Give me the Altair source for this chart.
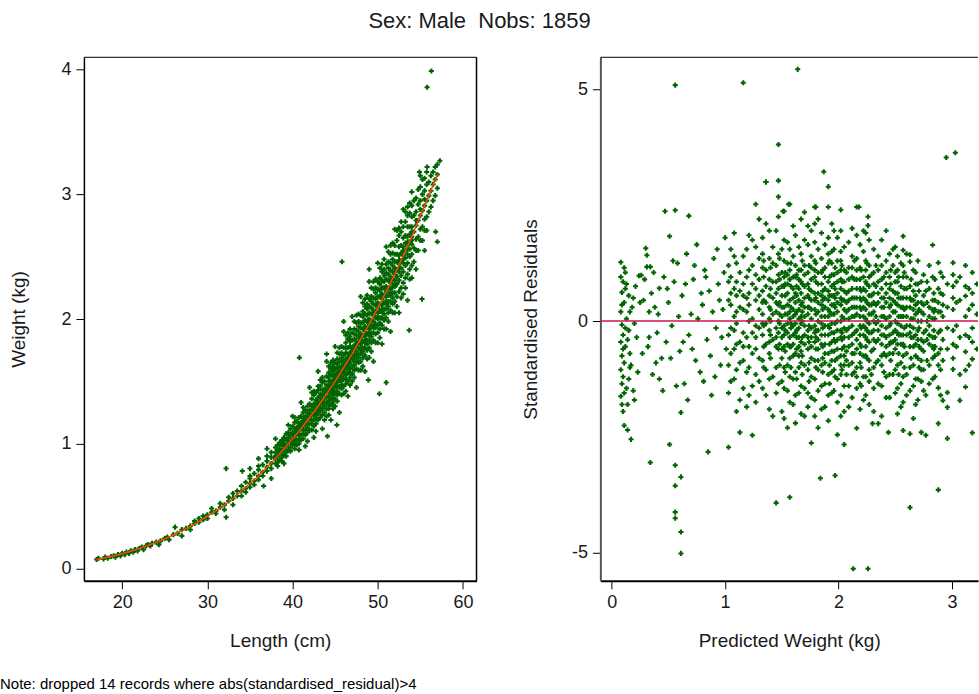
import altair as alt
import pandas as pd

TITLE = "Sex: Male\u00a0 Nobs: 1859"
NOTE = "Note: dropped 14 records where abs(standardised_residual)>4"

# ---------------- Left panel: Length (cm) vs Weight (kg) ----------------
small_fish = [(17.0,0.07),(17.2,0.08),(17.8,0.075),(18.0,0.09),(18.3,0.08),(18.7,0.095),(19.0,0.10),
              (19.2,0.09),(19.5,0.11),(19.8,0.10),(20.0,0.12),(20.3,0.11),(20.5,0.13),(20.8,0.12),
              (21.0,0.14),(21.3,0.13),(21.5,0.15),(21.8,0.14),(22.0,0.16),(22.3,0.17),(22.5,0.15),
              (22.8,0.18),(23.0,0.19),(23.3,0.18),(23.5,0.20),(24.0,0.21),(24.3,0.19),(24.5,0.22),
              (25.0,0.24),(25.3,0.25),(25.5,0.23),(26.0,0.27),(26.2,0.33),(26.5,0.28),(27.0,0.26),
              (27.0,0.31),(27.5,0.32),(28.0,0.34),(28.0,0.31),(28.5,0.36),(28.5,0.38),(29.0,0.37),
              (29.0,0.40),(29.5,0.39),(29.5,0.42),(30.0,0.43),(30.0,0.40),(30.5,0.45),(30.5,0.48),
              (31.0,0.46),(31.0,0.44),(31.5,0.49),(31.5,0.52),(32.0,0.51),(32.0,0.47),(32.5,0.54),
              (32.5,0.57),(33.0,0.56),(33.0,0.51),(33.0,0.60),(33.5,0.58),(33.5,0.62)]

mid_fish = [(34.0,[0.62,0.66,0.58]),(34.5,[0.64,0.69,0.61]),(35.0,[0.68,0.72,0.65,0.74]),
            (35.5,[0.70,0.76,0.67]),(36.0,[0.74,0.79,0.71,0.82]),(36.5,[0.77,0.83,0.74]),
            (37.0,[0.81,0.86,0.78,0.90]),(37.5,[0.84,0.89,0.80,0.93]),(38.0,[0.88,0.93,0.84,0.97,0.90]),
            (38.5,[0.92,0.96,0.87,1.01,0.94]),(39.0,[0.96,1.00,0.91,1.05,0.98]),
            (39.5,[1.00,1.05,0.95,1.09,1.02]),(40.0,[1.04,1.09,0.99,1.14,1.01,1.07])]

large_fish = [
    (40.5,[1.08,1.13,1.03,1.18,0.99,1.10]),
    (41.0,[1.13,1.17,1.07,1.22,1.03,1.15]),
    (41.5,[1.16,1.22,1.11,1.27,1.07,1.19]),
    (42.0,[1.21,1.27,1.16,1.32,1.11,1.24]),
    (42.5,[1.26,1.32,1.19,1.39,1.14,1.29,1.23,1.42]),
    (43.0,[1.31,1.37,1.24,1.43,1.19,1.33,1.27,1.46]),
    (43.5,[1.35,1.43,1.28,1.49,1.23,1.39,1.32,1.53]),
    (44.0,[1.41,1.47,1.33,1.54,1.28,1.44,1.37,1.22]),
    (44.5,[1.45,1.50,1.41,1.55,1.36,1.60,1.31,1.47,1.43,1.65]),
    (45.0,[1.50,1.55,1.46,1.60,1.41,1.65,1.36,1.52,1.48,1.30]),
    (45.5,[1.56,1.61,1.51,1.66,1.46,1.72,1.40,1.58,1.54,1.77]),
    (46.0,[1.61,1.66,1.57,1.71,1.52,1.77,1.46,1.63,1.59,1.40]),
    (46.5,[1.67,1.72,1.62,1.77,1.57,1.84,1.50,1.69,1.65,1.89]),
    (47.0,[1.72,1.77,1.68,1.83,1.62,1.89,1.56,1.75,1.70,1.50]),
    (47.5,[1.78,1.82,1.74,1.87,1.69,1.91,1.66,1.97,1.60,1.80,1.71,2.03]),
    (48.0,[1.84,1.88,1.80,1.93,1.75,1.97,1.72,2.03,1.66,1.86,1.77,1.59]),
    (48.5,[1.90,1.94,1.86,1.99,1.81,2.04,1.77,2.10,1.71,1.92,1.83,2.16]),
    (49.0,[1.96,2.00,1.92,2.05,1.87,2.10,1.83,2.16,1.77,1.98,1.89,1.69]),
    (49.5,[2.03,2.07,1.98,2.12,1.93,2.17,1.89,2.24,1.83,2.05,1.95,2.30]),
    (50.0,[2.09,2.13,2.05,2.18,2.00,2.24,1.95,2.30,1.89,2.11,2.02,1.81]),
    (50.5,[2.16,2.20,2.11,2.25,2.06,2.31,2.01,2.38,1.95,2.18,2.08,2.44]),
    (51.0,[2.22,2.26,2.18,2.32,2.12,2.37,2.08,2.44,2.01,2.24,2.14,1.92]),
    (51.5,[2.29,2.34,2.24,2.39,2.19,2.45,2.14,2.52,2.07,2.31,2.21,2.59]),
    (52.0,[2.36,2.41,2.31,2.46,2.26,2.52,2.21,2.59,2.14,2.38,2.28,2.05]),
    (52.5,[2.44,2.51,2.38,2.58,2.31,2.67,2.22,2.47,2.41,2.73]),
    (53.0,[2.51,2.58,2.45,2.65,2.38,2.74,2.29,2.55,2.48,2.20]),
    (53.5,[2.59,2.66,2.52,2.74,2.45,2.83,2.36,2.62,2.56,2.90]),
    (54.0,[2.66,2.74,2.60,2.82,2.52,2.91,2.43,2.70,2.63,2.33]),
    (54.5,[2.75,2.86,2.64,2.97,2.55,2.79]),
    (55.0,[2.83,2.95,2.72,3.06,2.63,2.88]),
    (55.5,[2.91,3.03,2.80,3.13,2.71,2.96]),
    (56.0,[2.99,3.10,2.86]),
    (56.5,[3.08,3.18,2.95]),
    (57.0,[3.16,3.24,3.05]),
]

large_fish_b = [
    (38.25,[0.90,0.95,0.85,0.99,0.82]),
    (38.75,[0.94,0.99,0.89,1.03,0.86]),
    (39.25,[0.98,1.03,0.93,1.08,0.90]),
    (39.75,[1.02,1.07,0.97,1.12,0.94]),
    (40.25,[1.06,1.12,1.00,1.17,0.96,1.09,1.03,1.21]),
    (40.75,[1.10,1.16,1.04,1.21,1.00,1.13,1.07,0.95]),
    (41.25,[1.14,1.20,1.08,1.25,1.04,1.17,1.11,1.29]),
    (41.75,[1.19,1.25,1.13,1.30,1.09,1.22,1.16,1.02]),
    (42.25,[1.23,1.30,1.16,1.36,1.11,1.27,1.19,1.41]),
    (42.75,[1.28,1.35,1.21,1.41,1.16,1.32,1.24,1.10]),
    (43.25,[1.33,1.40,1.26,1.46,1.21,1.37,1.29,1.51]),
    (43.75,[1.37,1.44,1.30,1.50,1.25,1.41,1.33,1.19]),
    (44.25,[1.42,1.50,1.34,1.57,1.28,1.46,1.38,1.62,1.23,1.53,1.31]),
    (44.75,[1.47,1.55,1.39,1.62,1.33,1.51,1.43,1.67,1.28,1.58,1.36]),
    (45.25,[1.53,1.61,1.45,1.68,1.39,1.57,1.49,1.73,1.34,1.64,1.42]),
    (45.75,[1.58,1.66,1.50,1.73,1.44,1.62,1.54,1.78,1.39,1.69,1.47]),
    (46.25,[1.64,1.73,1.55,1.81,1.48,1.68,1.60,1.87,1.42,1.77,1.52]),
    (46.75,[1.69,1.78,1.60,1.86,1.53,1.73,1.65,1.92,1.47,1.82,1.57]),
    (47.25,[1.75,1.84,1.66,1.92,1.59,1.79,1.71,1.98,1.53,1.88,1.63]),
    (47.75,[1.81,1.90,1.72,1.98,1.65,1.85,1.77,2.04,1.59,1.94,1.69]),
    (48.25,[1.87,1.97,1.77,2.06,1.69,1.92,1.82,2.13,1.62,2.02,1.74]),
    (48.75,[1.93,2.03,1.83,2.12,1.75,1.98,1.88,2.19,1.68,2.08,1.80]),
    (49.25,[1.99,2.09,1.89,2.18,1.81,2.04,1.94,2.25,1.74,2.14,1.86]),
    (49.75,[2.06,2.16,1.96,2.25,1.88,2.11,2.01,2.32,1.81,2.21,1.93]),
    (50.25,[2.12,2.23,2.01,2.33,1.92,2.18,2.06,2.41,1.85,2.28,1.97]),
    (50.75,[2.19,2.30,2.08,2.40,1.99,2.25,2.13,2.48,1.92,2.35,2.04]),
    (51.25,[2.25,2.36,2.14,2.46,2.05,2.31,2.19,2.54,1.98,2.41,2.10]),
    (51.75,[2.32,2.43,2.21,2.53,2.12,2.38,2.26,2.61,2.05,2.48,2.17]),
    (52.25,[2.40,2.52,2.28,2.63,2.18,2.46,2.34,2.71,2.10]),
    (52.75,[2.47,2.59,2.35,2.70,2.25,2.53,2.41,2.78,2.17]),
    (53.25,[2.55,2.67,2.43,2.78,2.33,2.61,2.49,2.86,2.25]),
    (53.75,[2.62,2.74,2.50,2.85,2.40,2.68,2.56,2.93,2.32]),
    (54.25,[2.70,2.83,2.57,2.95,2.46]),
    (54.75,[2.79,2.92,2.66,3.04,2.55]),
    (55.25,[2.87,3.00,2.74,3.12,2.63]),
    (55.75,[2.95,3.08,2.82,3.18,2.71]),
    (56.25,[3.03,3.15,2.90]),
    (56.75,[3.12,3.22,2.99]),
]

band_edges = [(39.5,1.15),(40.0,1.22),(41.0,1.33),(41.5,0.98),(42.0,1.45),(42.5,1.05),(43.0,1.58),
              (43.5,1.12),(44.0,1.66),(44.5,1.19),(45.0,1.78),(45.5,1.25),(46.0,1.90),(46.5,1.38),
              (47.0,2.02),(47.5,1.45),(48.0,2.18),(48.5,1.58),(49.0,2.30),(49.5,1.66),(50.0,2.45),
              (50.5,1.80),(51.0,2.58),(51.5,1.90),(52.0,2.72),(52.5,2.05),(53.0,2.88),(53.5,2.15),
              (54.0,3.02),(54.5,2.40),(55.0,3.15),(55.5,2.55),(46.0,1.98),(44.0,1.72),(49.0,2.40),
              (37.0,0.96),(38.0,1.04),(36.0,0.88),(35.0,0.80),(37.5,0.72),(39.0,0.84)]

left_outliers = [(32.2,0.41),(32.2,0.80),(34.1,0.78),(36.6,0.66),(40.8,1.69),(45.8,2.46),(44.1,1.06),
                 (45.2,1.15),(50.2,1.40),(51.0,1.49),(48.9,1.51),(53.7,1.91),(55.2,2.16),(57.0,2.62),
                 (56.8,2.70),(56.3,3.99),(55.8,3.86),(57.3,3.27),(54.9,3.18),(55.8,3.22)]

fit_length = [17,18,19,20,21,22,23,24,25,26,27,28,29,30,31,32,33,34,35,36,37,38,39,40,
              41,42,43,44,45,46,47,48,49,50,51,52,53,54,55,56,57]
fit_weight = [0.070,0.084,0.099,0.117,0.137,0.159,0.183,0.209,0.236,0.267,0.300,0.336,0.374,0.419,
              0.46,0.51,0.56,0.62,0.68,0.74,0.81,0.88,0.96,1.04,1.12,1.21,1.30,1.40,1.50,1.61,
              1.72,1.84,1.96,2.09,2.22,2.36,2.51,2.66,2.83,2.99,3.16]

# ---------------- Right panel: predicted weight vs standardised residuals ----------------
resid_smallest = [(0.08,1.27),(0.08,0.95),(0.09,0.62),(0.08,0.20),(0.09,-0.08),(0.08,-0.45),(0.09,-0.75),
                  (0.08,-1.05),(0.09,-1.35),(0.08,-1.62),(0.10,-1.95),(0.10,0.85),(0.11,0.40),(0.10,-0.30),
                  (0.11,-0.90),(0.10,-1.20),(0.11,-2.25),(0.12,1.05),(0.12,0.70),(0.13,0.05),(0.12,-0.55),
                  (0.13,-1.45),(0.14,-1.80),(0.14,-2.35),(0.15,0.55),(0.15,-0.20),(0.16,-0.70),(0.16,-1.00),
                  (0.17,-2.55),(0.18,0.30),(0.19,-1.50),(0.20,-1.70),(0.21,0.75),(0.22,-0.35),(0.24,0.98)]

resid_small = [(0.26,0.99),(0.28,0.45),(0.30,1.57),(0.31,1.42),(0.31,1.17),(0.32,-0.55),(0.33,0.20),
               (0.34,1.17),(0.34,-3.05),(0.35,0.60),(0.36,-1.15),(0.38,0.30),(0.40,-0.25),(0.42,0.71),
               (0.42,-1.25),(0.44,-0.80),(0.46,0.95),(0.47,2.37),(0.48,-0.45),(0.50,0.40),(0.51,1.83),
               (0.51,-2.66),(0.53,-0.10),(0.55,0.85),(0.56,5.09),(0.56,2.39),(0.56,-3.11),(0.56,-3.55),
               (0.56,-4.12),(0.56,-4.25),(0.58,1.25),(0.60,-0.65),(0.61,-1.97),(0.61,-3.36),(0.61,-4.55),
               (0.61,-5.01),(0.62,0.55),(0.64,-1.35),(0.66,1.45),(0.68,2.27),(0.68,-0.30),(0.70,0.15),
               (0.72,0.90),(0.74,-0.85),(0.75,1.65),(0.78,-1.10),(0.80,0.35),(0.82,1.10),(0.84,-0.40),
               (0.85,-2.82),(0.86,0.65),(0.88,-1.60),(0.90,1.35),(0.92,-0.15),(0.94,0.80),(0.96,-0.95),
               (0.98,0.25),(1.00,1.80)]

resid_small_b = [(0.09,0.35),(0.10,-0.60),(0.11,1.15),(0.12,-0.15),(0.09,-1.80),(0.13,0.80),(0.14,-0.40),
                 (0.11,-1.55),(0.15,-1.25),(0.16,0.20),(0.17,-0.95),(0.19,0.50),(0.20,-0.05),(0.23,-1.10),
                 (0.25,0.40),(0.27,-0.70),(0.29,0.90),(0.33,-0.35),(0.37,1.05),(0.39,-0.90),(0.41,0.15),
                 (0.45,-1.50),(0.49,0.70),(0.52,-0.80),(0.54,1.30),(0.57,-1.40),(0.59,0.10),(0.63,-0.45),
                 (0.65,0.80),(0.67,-1.70),(0.71,-0.60),(0.73,1.20),(0.76,0.05),(0.79,0.60),(0.81,-1.30),
                 (0.83,0.95),(0.87,-0.75),(0.89,0.20),(0.91,-1.20),(0.93,1.55),(0.95,0.45),(0.97,-0.35),
                 (0.99,1.05),(1.01,-0.60)]

resid_columns = [
    (1.03,[1.20,0.45,-0.30,-0.95,-2.72,0.85,-1.55]),
    (1.08,[1.90,0.70,0.10,-0.60,-1.25,1.40,-0.20]),
    (1.13,[1.05,0.30,-0.45,-1.70,-2.40,0.65,-0.90]),
    (1.19,[1.55,0.95,0.20,-0.35,-1.10,0.50,-1.85]),
    (1.24,[1.75,0.80,0.05,-0.70,-2.46,1.20,-0.25,-1.40]),
    (1.30,[2.20,1.35,0.55,-0.15,-0.80,-1.30,0.90,0.25]),
    (1.36,[3.00,2.10,1.10,0.40,-0.50,-1.05,0.75,-1.60,-0.05]),
    (1.42,[1.60,0.85,0.15,-0.40,-1.20,-2.05,0.50,1.25]),
    (1.47,[3.03,2.68,2.25,1.45,0.70,0.00,-0.60,-1.35,1.00,-0.25,0.35]),
    (1.52,[2.37,1.30,0.75,0.30,-0.10,-0.55,-1.00,-1.45,0.95,-0.30,1.75,-2.10]),
    (1.57,[2.52,1.55,0.90,0.45,0.05,-0.35,-0.80,-1.20,-1.75,0.20,1.10,-0.55]),
    (1.62,[1.85,1.20,0.60,0.15,-0.25,-0.70,-1.10,-1.60,0.40,-0.05,0.95,-2.20]),
    (1.67,[2.20,1.45,0.85,0.35,-0.05,-0.45,-0.90,-1.40,-2.00,0.60,0.10,1.10,-0.65]),
    (1.73,[1.65,1.05,0.55,0.15,-0.20,-0.60,-1.05,-1.55,0.80,-0.35,0.30,2.05,-1.85]),
    (1.79,[2.46,2.10,1.70,1.30,0.95,0.60,0.25,-0.10,-0.45,-0.85,-1.25,-1.70,0.45,-0.25,1.10,-2.05]),
    (1.85,[1.90,1.35,0.80,0.35,-0.05,-0.50,-0.95,-1.40,0.55,0.10,-0.30,1.05,-1.90]),
    (1.91,[2.90,2.46,1.80,1.25,0.85,0.45,0.10,-0.30,-0.70,-1.15,-1.60,-2.15,0.65,-0.10,1.45,0.25]),
    (1.96,[1.55,1.00,0.55,0.15,-0.25,-0.65,-1.05,-1.50,0.35,-0.40,0.80,1.95]),
    (2.02,[2.40,1.95,1.50,1.10,0.70,0.35,0.00,-0.35,-0.75,-1.15,-1.60,-2.05,0.50,-0.20,0.90,1.30,-0.95]),
    (2.09,[1.70,1.15,0.65,0.25,-0.15,-0.55,-0.95,-1.40,-1.85,0.45,0.05,-0.35,0.90]),
    (2.16,[2.46,1.85,1.35,0.90,0.50,0.15,-0.20,-0.60,-1.00,-1.45,-2.31,0.70,-0.40,1.10,0.30,-1.20]),
    (2.22,[1.50,0.95,0.50,0.10,-0.30,-0.75,-1.20,-1.70,0.30,-0.10,0.70,1.95]),
    (2.27,[1.75,1.20,0.75,0.35,-0.05,-0.45,-0.85,-1.30,-1.80,0.55,-0.25,0.95,0.15,-1.05]),
    (2.35,[1.40,0.85,0.40,0.00,-0.40,-0.85,-1.35,0.60,-0.20,1.10,-2.21]),
    (2.42,[1.95,1.30,0.80,0.40,0.05,-0.35,-0.75,-1.20,-1.65,0.60,-0.15,1.05,-0.55]),
    (2.48,[1.20,0.65,0.20,-0.25,-0.70,-1.15,0.45,-0.45,1.55]),
    (2.52,[1.40,0.85,0.35,-0.05,-0.50,-0.95,-1.45,0.60,-0.25,1.10,-2.00]),
    (2.57,[1.53,1.83,0.95,0.50,0.10,-0.30,-0.75,-1.20,-1.75,-2.36,0.30,-0.50,1.20]),
    (2.63,[1.43,1.28,0.75,0.30,-0.10,-0.55,-1.00,-1.50,-2.43,0.50,-0.25]),
    (2.68,[1.05,0.55,0.15,-0.30,-0.75,-1.25,-1.80,0.35,-0.50,0.80]),
    (2.73,[0.85,0.40,0.00,-0.40,-0.85,-1.30,-2.40,0.20,-0.60,-1.05]),
    (2.77,[-2.46,0.65,-0.20,-1.60]),
    (2.83,[1.64,0.95,0.45,0.05,-0.35,-0.80,-1.25,0.25,-0.55]),
    (2.88,[1.26,0.70,0.20,-0.25,-0.70,-1.44,-2.21,0.40,-0.95]),
    (2.92,[0.95,0.57,0.10,-0.40,-1.71,-0.85,0.35]),
    (2.96,[-2.53,-1.54,0.80,-0.15,-1.86,0.30,-0.60]),
    (3.01,[1.26,0.75,0.25,-0.20,-1.04,-0.50,0.50,1.00,-0.80]),
    (3.07,[0.45,-0.35,-1.71,0.95,-1.15]),
    (3.12,[0.54,-0.66,-1.06,0.10,1.20,-0.30,-1.42,0.75]),
    (3.18,[-0.82,0.35,-0.15,-2.41,0.60,1.05,-0.45]),
    (3.22,[0.15,-0.60,0.80]),
]

resid_columns_b = [
    (1.05,[0.95,0.35,-0.15,-0.70,-1.30,1.55,0.60]),
    (1.10,[1.25,0.55,-0.05,-0.50,-1.05,-1.95,0.85,0.20]),
    (1.16,[1.40,0.80,0.25,-0.25,-0.85,-1.45,0.55,-0.55]),
    (1.21,[1.10,0.60,0.00,-0.55,-1.00,-1.60,0.35,1.85]),
    (1.27,[1.60,1.00,0.45,-0.10,-0.60,-1.15,0.70,-0.35,-1.75]),
    (1.33,[1.80,1.15,0.65,0.15,-0.30,-0.85,-1.45,0.40,-0.05,1.45]),
    (1.39,[1.35,0.90,0.30,-0.20,-0.70,-1.25,0.55,0.05,-0.45,1.95,-1.90]),
    (1.45,[1.95,1.20,0.60,0.20,-0.15,-0.55,-1.00,-1.55,0.85,-0.35,0.40]),
    (1.50,[1.55,1.05,0.55,0.10,-0.35,-0.80,-1.30,0.75,-0.15,0.30,-0.60,-1.95]),
    (1.55,[1.70,1.25,0.80,0.35,-0.05,-0.50,-0.95,-1.50,0.60,0.15,-0.25,1.00,-2.30]),
    (1.60,[2.05,1.40,0.95,0.50,0.10,-0.30,-0.75,-1.25,-1.80,0.70,0.25,-0.10,-0.50]),
    (1.65,[1.60,1.10,0.70,0.25,-0.15,-0.55,-1.00,-1.55,0.45,0.05,-0.35,0.90,-0.75]),
    (1.70,[2.35,1.75,1.20,0.75,0.30,-0.10,-0.50,-0.95,-1.45,-2.05,0.50,0.10,-0.30,1.00]),
    (1.76,[1.95,1.40,0.90,0.45,0.05,-0.35,-0.80,-1.20,-1.65,0.65,0.25,-0.15,-0.55,1.15]),
    (1.82,[2.20,1.55,1.05,0.60,0.20,-0.20,-0.60,-1.05,-1.50,-2.30,0.40,0.00,-0.40,0.80,-0.85]),
    (1.88,[1.65,1.15,0.70,0.30,-0.10,-0.50,-0.90,-1.35,-1.85,0.50,0.10,-0.30,0.95,-0.70]),
    (1.94,[2.10,1.50,1.00,0.55,0.15,-0.25,-0.65,-1.10,-1.55,0.35,-0.05,-0.45,0.75,-0.85,1.25]),
    (1.99,[1.80,1.30,0.85,0.40,0.00,-0.40,-0.80,-1.25,-1.75,-2.45,0.60,0.20,-0.20,1.05,-0.60]),
    (2.05,[1.60,1.10,0.65,0.25,-0.15,-0.55,-0.95,-1.40,0.45,0.05,-0.35,0.85,-0.75,-1.95]),
    (2.12,[2.00,1.40,0.95,0.50,0.10,-0.30,-0.70,-1.15,-1.65,0.70,0.30,-0.10,-0.50,1.15,-0.90]),
    (2.19,[1.65,1.15,0.70,0.30,-0.10,-0.50,-0.90,-1.35,-1.90,0.50,0.10,-0.30,0.90,-0.70]),
    (2.24,[1.90,1.30,0.85,0.45,0.05,-0.35,-0.75,-1.20,-1.60,0.65,0.25,-0.15,-0.55,1.10]),
    (2.31,[1.55,1.05,0.60,0.20,-0.20,-0.60,-1.00,-1.45,-1.95,0.40,0.00,-0.40,0.80]),
    (2.38,[1.75,1.20,0.70,0.30,-0.10,-0.50,-0.95,-1.40,0.50,0.10,-0.30,0.90,-0.75,-2.05]),
    (2.45,[1.45,0.95,0.50,0.10,-0.30,-0.70,-1.15,-1.65,0.30,-0.10,0.70,-0.50]),
    (2.50,[1.60,1.05,0.60,0.20,-0.20,-0.60,-1.05,-1.55,0.40,0.00,-0.40,0.85]),
    (2.55,[1.25,0.75,0.30,-0.10,-0.50,-0.90,-1.35,0.50,0.10,-0.30,-1.85]),
    (2.60,[1.45,0.95,0.50,0.10,-0.30,-0.70,-1.15,-1.60,0.30,-0.10,0.70]),
    (2.66,[1.10,0.65,0.25,-0.15,-0.55,-0.95,-1.40,0.45,0.05,-0.35,-2.10]),
    (2.70,[1.30,0.80,0.40,0.00,-0.40,-0.80,-1.25,0.20,-0.20,-1.70]),
    (2.75,[1.00,0.55,0.15,-0.25,-0.65,-1.05,0.35,-0.45,-1.50]),
    (2.80,[1.20,0.70,0.30,-0.10,-0.50,-0.95,0.10,-0.30,-1.35]),
    (2.85,[0.90,0.45,0.05,-0.35,-0.75,-1.20,0.25,-0.55]),
    (2.90,[1.05,0.60,0.20,-0.20,-0.60,-1.05,-1.60]),
]

resid_columns_c = [
    (1.34,[0.95,0.45,-0.10,-0.55,1.30,-1.00]),
    (1.40,[1.15,0.70,0.25,-0.30,-0.80,0.00]),
    (1.48,[0.90,0.40,-0.05,-0.50,-0.95,1.35,0.15]),
    (1.53,[1.05,0.55,0.15,-0.20,-0.65,-1.10,0.80]),
    (1.58,[0.75,0.30,-0.15,-0.55,-1.00,1.25,-0.05]),
    (1.63,[1.00,0.55,0.20,-0.20,-0.60,-1.25,0.75,-0.35]),
    (1.68,[0.80,0.40,0.00,-0.35,-0.75,1.30,-1.15,0.20]),
    (1.74,[1.20,0.70,0.30,-0.10,-0.45,-0.90,0.50,-1.30]),
    (1.80,[0.85,0.50,0.15,-0.20,-0.60,-1.00,1.25,-0.35]),
    (1.86,[1.10,0.65,0.25,-0.15,-0.55,-1.10,0.45,-0.80]),
    (1.92,[0.95,0.55,0.20,-0.15,-0.50,-0.95,1.30,-1.35]),
    (1.97,[1.15,0.70,0.30,-0.05,-0.45,-0.85,0.50,-1.20]),
    (2.03,[0.85,0.45,0.10,-0.25,-0.60,-1.05,1.20,-0.40]),
    (2.07,[1.05,0.60,0.20,-0.20,-0.65,-1.15,0.40,-0.85]),
    (2.14,[0.90,0.50,0.10,-0.25,-0.70,1.30,-1.10,0.30]),
    (2.20,[1.10,0.65,0.25,-0.15,-0.55,-1.00,0.45,-1.40]),
    (2.25,[0.80,0.40,0.00,-0.40,-0.80,1.25,-0.20]),
    (2.29,[1.00,0.55,0.15,-0.25,-0.65,-1.15,0.35]),
    (2.33,[0.75,0.35,-0.05,-0.45,-0.90,1.20,0.10]),
    (2.40,[0.95,0.50,0.10,-0.30,-0.70,-1.10,0.30]),
    (2.46,[0.80,0.35,-0.05,-0.45,-0.85,1.10]),
    (2.53,[0.95,0.50,0.10,-0.30,-0.70,-1.15]),
    (2.58,[0.70,0.25,-0.15,-0.55,-1.00,1.05]),
    (2.64,[0.90,0.45,0.05,-0.35,-0.80]),
    (2.71,[0.65,0.25,-0.15,-0.55,-1.00]),
    (2.78,[0.85,0.40,0.00,-0.40,-0.85]),
    (2.84,[0.60,0.20,-0.20,-0.60]),
    (3.04,[0.40,-0.10,-0.55,0.85]),
    (3.15,[0.25,-0.35,0.70,-0.95]),
]

resid_outliers = [(1.16,5.14),(1.47,3.81),(1.45,-3.92),(1.57,-3.80),(1.64,5.43),(1.56,2.52),(1.76,-2.63),
                  (1.80,2.46),(1.84,-3.39),(1.87,3.22),(1.97,-3.33),(2.05,-2.66),(2.13,-5.34),(2.18,2.46),
                  (2.26,-5.34),(2.26,2.25),(2.26,2.06),(2.30,-2.21),(2.44,-2.40),(2.63,-4.02),(2.88,-3.64),
                  (2.95,3.53),(3.03,3.63),(1.36,3.00),(1.27,2.52),(1.51,2.37)]

# ---------------- build tables ----------------
left_rows = list(small_fish) + list(band_edges) + list(left_outliers)
for L, ws in mid_fish + large_fish + large_fish_b:
    left_rows += [(L, w) for w in ws]
left_df = pd.DataFrame(left_rows, columns=["length", "weight"])
fit_df = pd.DataFrame({"length": fit_length, "weight": fit_weight})

right_rows = list(resid_smallest) + list(resid_small) + list(resid_small_b) + list(resid_outliers)
for x, ys in resid_columns + resid_columns_b + resid_columns_c:
    right_rows += [(x, y) for y in ys]
right_df = pd.DataFrame(right_rows, columns=["pred", "resid"])

FONT = "Liberation Sans"
GREEN = "#006400"
TXT = "#1a1a1a"
WL, WR, H = 393, 378, 524


def ax(values, tpad, dcolor="black", dwidth=1.5):
    return alt.Axis(values=values, labelExpr="'' + datum.value", grid=False, tickSize=8,
                    tickColor="black", tickWidth=1, domainColor=dcolor, domainWidth=dwidth,
                    labelFont=FONT, labelFontSize=18, labelColor=TXT, labelPadding=5,
                    titleFont=FONT, titleFontSize=19, titleFontWeight="normal", titleColor=TXT,
                    titlePadding=tpad)


pts_style = dict(shape="cross", filled=True, size=26, color=GREEN, opacity=1)

xl = alt.X("length:Q", scale=alt.Scale(domain=[15.5, 61.6], nice=False, zero=False),
           axis=ax([20, 30, 40, 50, 60], 20, dwidth=2), title="Length (cm)")
yl = alt.Y("weight:Q", scale=alt.Scale(domain=[-0.1, 4.1], nice=False, zero=False),
           axis=ax([0, 1, 2, 3, 4], 32), title="Weight (kg)")

left_pts = alt.Chart(left_df).mark_point(**pts_style).encode(x=xl, y=yl)
left_fit = alt.Chart(fit_df).mark_line(color="#FF4500", strokeWidth=1.5).encode(x="length:Q", y="weight:Q")
one = pd.DataFrame({"t": [TITLE]})
left_top = alt.Chart(one).mark_rule(color="black", strokeWidth=1).encode(
    x=alt.value(0), x2=alt.value(WL), y=alt.value(0))
left_right = alt.Chart(one).mark_rule(color="black", strokeWidth=1.5).encode(
    x=alt.value(WL), y=alt.value(0), y2=alt.value(H))
# invisible anchor that fixes the top edge of the page 57 px above the plots
top_anchor = alt.Chart(one).mark_rule(color="white", strokeWidth=0).encode(
    x=alt.value(0), x2=alt.value(2), y=alt.value(-57))
title_txt = alt.Chart(one).mark_text(font=FONT, fontSize=22, color=TXT, align="center",
                                     baseline="alphabetic").encode(
    text="t:N", x=alt.value(396), y=alt.value(-29))
note_txt = alt.Chart(pd.DataFrame({"t": [NOTE]})).mark_text(font=FONT, fontSize=15, color="black",
                                                           align="left", baseline="alphabetic").encode(
    text="t:N", x=alt.value(-84), y=alt.value(632))

left = alt.layer(left_pts, left_fit, left_top, left_right, top_anchor, title_txt, note_txt).properties(
    width=WL, height=H)

xr = alt.X("pred:Q", scale=alt.Scale(domain=[-0.1, 3.23], nice=False, zero=False),
           axis=ax([0, 1, 2, 3], 20, dwidth=2), title="Predicted Weight (kg)")
yr = alt.Y("resid:Q", scale=alt.Scale(domain=[-5.6, 5.69], nice=False, zero=False),
           axis=ax([-5, 0, 5], 31, dcolor="#555555", dwidth=2), title="Standardised Residuals")

right_pts = alt.Chart(right_df).mark_point(clip=True, **pts_style).encode(x=xr, y=yr)
zero_line = alt.Chart(pd.DataFrame({"resid": [0]})).mark_rule(color="#CC1450", strokeWidth=1.5).encode(
    y="resid:Q")
right_top = alt.Chart(one).mark_rule(color="black", strokeWidth=1).encode(
    x=alt.value(0), x2=alt.value(WR), y=alt.value(0))

right = alt.layer(right_pts, zero_line, right_top).properties(width=WR, height=H)

chart = alt.hconcat(left, right, spacing=124, bounds="flush").properties(
    padding={"left": 0, "top": 0, "right": 0, "bottom": 0},
    background="white",
).configure_view(stroke=None)

chart.save("out.html", embed_options={"renderer": "svg", "actions": False})
